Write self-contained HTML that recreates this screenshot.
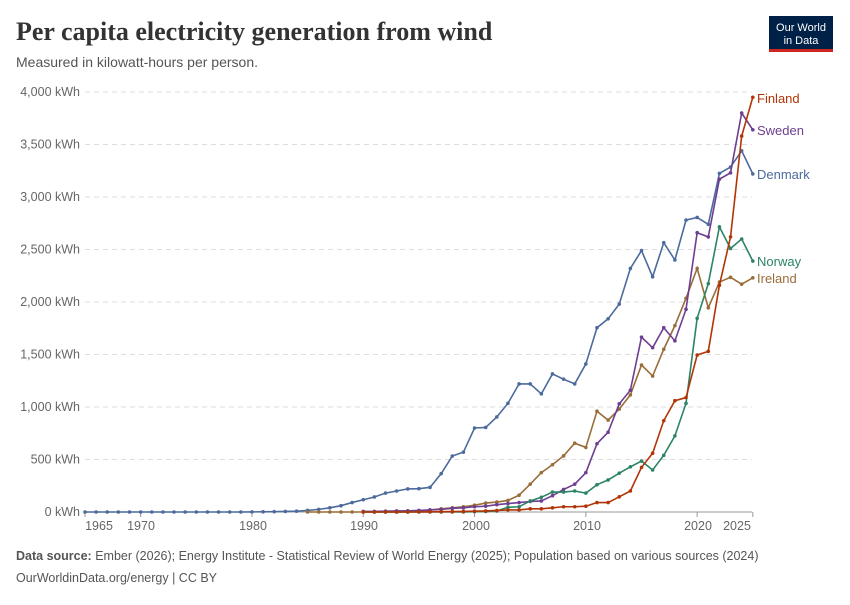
<!DOCTYPE html>
<html><head><meta charset="utf-8"><style>
body{margin:0;background:#fff;width:850px;height:600px;overflow:hidden;font-family:"Liberation Sans",sans-serif}
</style></head><body>
<svg id="s" width="850" height="600" xmlns="http://www.w3.org/2000/svg">
<text x="16" y="40" font-family="Liberation Serif,serif" font-size="26" font-weight="bold" fill="#333">Per capita electricity generation from wind</text>
<text x="16" y="67" font-size="14" fill="#555">Measured in kilowatt-hours per person.</text>
<rect x="769" y="16" width="64" height="35" fill="#002147"/>
<rect x="769" y="49" width="64" height="3" fill="#ce261e"/>
<text x="801" y="31" font-size="11" fill="#fff" text-anchor="middle">Our World</text>
<text x="801" y="44" font-size="11" fill="#fff" text-anchor="middle">in Data</text>
<text x="16" y="560" font-size="12.5" fill="#555"><tspan font-weight="bold">Data source:</tspan> Ember (2026); Energy Institute - Statistical Review of World Energy (2025); Population based on various sources (2024)</text>
<text x="16" y="582" font-size="12.5" fill="#555">OurWorldinData.org/energy | CC BY</text>
<g id="g"></g>
</svg>
<script>
const g=document.getElementById('g');let h='';
const X=y=>85+(y-1965)*11.13, Y=v=>512-v*0.105;
for(let i=0;i<=8;i++){const v=i*500,y=Y(v);
 if(i>0)h+=`<line x1="85" x2="752" y1="${y}" y2="${y}" stroke="#ddd" stroke-dasharray="5,4"/>`;
 h+=`<text x="80" y="${y+4}" font-size="12.5" fill="#666" text-anchor="end">${v.toLocaleString('en-US')} kWh</text>`;}
h+=`<line x1="85" x2="752" y1="512" y2="512" stroke="#999"/>`;
[[1965,99],[1970,141],[1980,253],[1990,364],[2000,476],[2010,587],[2020,698],[2025,737]].forEach(([yr,lx])=>{
 h+=`<line x1="${X(yr)}" x2="${X(yr)}" y1="512" y2="517" stroke="#999"/><text x="${lx}" y="530" font-size="12.5" fill="#666" text-anchor="middle">${yr}</text>`;});
function ser(start,vals,col,name,ly){let pts=vals.map((v,i)=>[X(start+i),Y(v)]);
 h+=`<polyline fill="none" stroke="${col}" stroke-width="1.6" points="${pts.map(p=>p.join(',')).join(' ')}"/>`;
 pts.forEach(p=>h+=`<circle cx="${p[0]}" cy="${p[1]}" r="1.8" fill="${col}"/>`);
 h+=`<text x="757" y="${ly}" font-size="13" fill="${col}">${name}</text>`;}
const dk=[0,0,0,0,0,0,0,0,0,0,0,0,0,0,0,1,2,3,5,8,15,25,40,60,90,117,143,180,200,220,222,235,365,533,570,800,805,905,1035,1220,1220,1125,1315,1265,1220,1410,1755,1840,1980,2320,2490,2240,2565,2400,2780,2805,2740,3225,3285,3440,3220];
ser(1965,dk,'#4c6a9c','Denmark',179);
const ie=[0,0,0,0,0,0,0,0,0,0,10,20,30,40,50,65,85,95,110,160,265,375,450,535,655,615,960,875,980,1115,1400,1295,1550,1775,2035,2320,1945,2190,2235,2170,2230];
ser(1985,ie,'#996d39','Ireland',283);
const se=[5,6,8,10,12,15,20,25,35,40,50,55,70,80,90,100,105,155,215,265,375,650,760,1030,1160,1665,1565,1755,1630,1930,2660,2620,3170,3230,3800,3640];
ser(1990,se,'#6d3e91','Sweden',135);
const no=[0,0,0,0,0,0,0,0,0,0,3,5,10,45,50,105,140,190,190,200,180,260,305,370,430,485,400,540,725,1035,1845,2175,2715,2510,2600,2390];
ser(1990,no,'#2c8465','Norway',266);
const fi=[0,0,0,0,0,1,2,3,4,5,8,10,15,20,20,30,30,40,50,50,55,90,90,145,200,425,560,870,1060,1090,1495,1530,2160,2620,3580,3950];
ser(1990,fi,'#b13507','Finland',103);
g.innerHTML=h;
</script>
</body></html>
